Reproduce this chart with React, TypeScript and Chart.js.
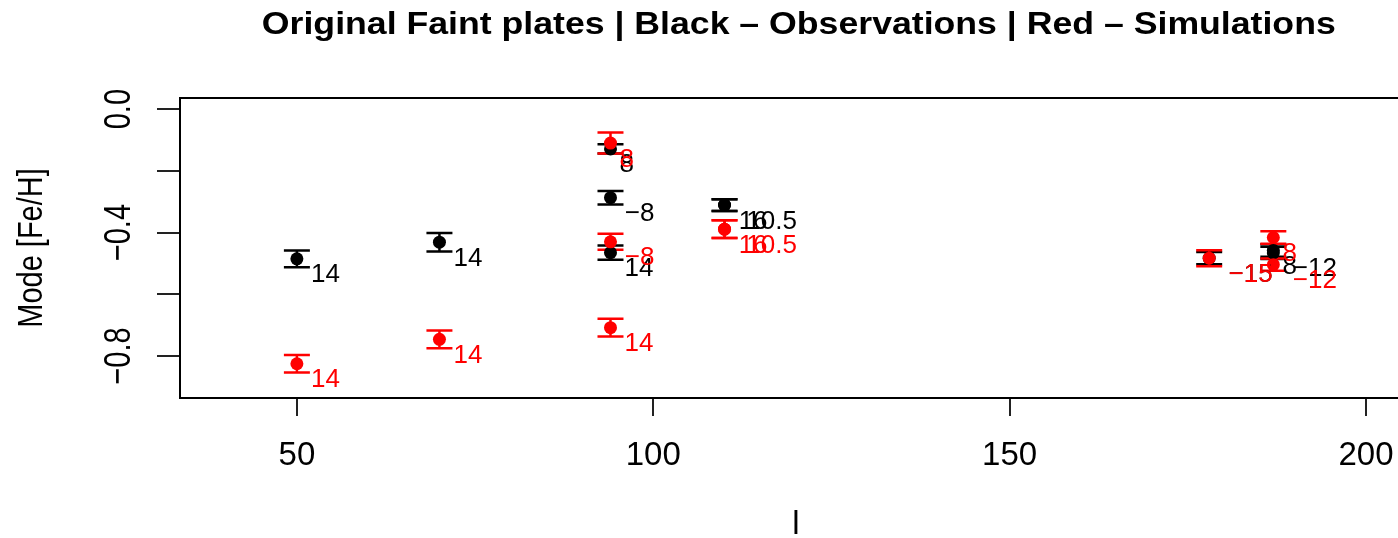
import React, { useEffect, useRef } from "react";
import { Chart, registerables } from "chart.js";

Chart.register(...registerables);

// ---- data ----
const fieldL = [50, 70, 94, 94, 94, 110, 110, 178, 187, 187];
const fieldLabels = ["14", "14", "8", "−8", "14", "16", "10.5", "−15", "8", "−12"];
const obsMode = [-0.485, -0.431, -0.129, -0.287, -0.465, -0.311, -0.311, -0.483, -0.458, -0.466];
const obsErr = [0.027, 0.03, 0.015, 0.022, 0.023, 0.019, 0.019, 0.02, 0.02, 0.02];
const simMode = [-0.825, -0.746, -0.11, -0.43, -0.708, -0.389, -0.389, -0.483, -0.416, -0.504];
const simErr = [0.028, 0.029, 0.034, 0.026, 0.029, 0.029, 0.029, 0.026, 0.02, 0.02];

const xTicks = [50, 100, 150, 200];
const xTickLabels = ["50", "100", "150", "200"];
const yTicks = [0, -0.2, -0.4, -0.6, -0.8];
const yLabelValues = [0, -0.4, -0.8];
const yTickLabels = ["0.0", "−0.4", "−0.8"];
const xLimits = [33.6, 206.4];
const yLimits = [-0.936, 0.036];

const titleText = "Original Faint plates | Black – Observations | Red – Simulations";
const xTitle = "l";
const yTitle = "Mode [Fe/H]";

const OBS_COLOR = "#000000";
const SIM_COLOR = "#ff0000";
const FONT = "'Liberation Sans', Arial, Helvetica, sans-serif";

const CANVAS_W = 1430;
const CANVAS_H = 538;

const rPlotPlugin = {
  id: "rPlot",
  beforeDatasetsDraw(chart: any) {
    const { ctx, scales } = chart;
    const x = scales.x;
    const y = scales.y;
    ctx.save();
    const bars = (vals: number[], errs: number[], color: string) => {
      ctx.strokeStyle = color;
      ctx.lineWidth = 2.5;
      for (let i = 0; i < vals.length; i++) {
        const px = x.getPixelForValue(fieldL[i]);
        const pTop = y.getPixelForValue(vals[i] + errs[i]);
        const pBot = y.getPixelForValue(vals[i] - errs[i]);
        ctx.beginPath();
        ctx.moveTo(px, pTop);
        ctx.lineTo(px, pBot);
        ctx.moveTo(px - 13, pTop);
        ctx.lineTo(px + 13, pTop);
        ctx.moveTo(px - 13, pBot);
        ctx.lineTo(px + 13, pBot);
        ctx.stroke();
      }
    };
    bars(obsMode, obsErr, OBS_COLOR);
    bars(simMode, simErr, SIM_COLOR);
    ctx.restore();
  },
  afterDatasetsDraw(chart: any) {
    const { ctx, scales } = chart;
    const x = scales.x;
    const y = scales.y;
    ctx.save();
    ctx.font = `26px ${FONT}`;
    ctx.textAlign = "left";
    ctx.textBaseline = "alphabetic";
    const labels = (vals: number[], color: string) => {
      ctx.fillStyle = color;
      for (let i = 0; i < vals.length; i++) {
        const px = x.getPixelForValue(fieldL[i]);
        const py = y.getPixelForValue(vals[i]);
        const w = ctx.measureText(fieldLabels[i]).width;
        ctx.fillText(fieldLabels[i], px + 4 + 0.35 * w, py + 23.5);
      }
    };
    labels(obsMode, OBS_COLOR);
    labels(simMode, SIM_COLOR);
    ctx.restore();
  },
  afterDraw(chart: any) {
    const { ctx, chartArea, scales } = chart;
    const x = scales.x;
    const y = scales.y;
    ctx.save();
    // box
    ctx.strokeStyle = "#000";
    ctx.lineWidth = 2;
    ctx.strokeRect(chartArea.left, chartArea.top, chartArea.right - chartArea.left, chartArea.bottom - chartArea.top);

    const cx = (chartArea.left + chartArea.right) / 2;
    const cy = (chartArea.top + chartArea.bottom) / 2;

    // title
    ctx.fillStyle = "#000";
    ctx.font = `bold 31px ${FONT}`;
    ctx.textAlign = "center";
    ctx.textBaseline = "alphabetic";
    ctx.save();
    ctx.translate(cx + 3, 34);
    ctx.scale(1.15, 1);
    ctx.fillText(titleText, 0, 0);
    ctx.restore();

    // x tick labels
    ctx.font = `33px ${FONT}`;
    xTicks.forEach((v, i) => {
      ctx.fillText(xTickLabels[i], x.getPixelForValue(v), 465);
    });

    // x title
    ctx.fillText(xTitle, cx, 534);

    // y tick labels (rotated)
    ctx.font = `29px ${FONT}`;
    yLabelValues.forEach((v, i) => {
      ctx.save();
      ctx.translate(130, y.getPixelForValue(v));
      ctx.rotate(-Math.PI / 2);
      ctx.scale(1, 1.3);
      ctx.fillText(yTickLabels[i], 0, 0);
      ctx.restore();
    });

    // y title
    ctx.save();
    ctx.translate(42, cy);
    ctx.rotate(-Math.PI / 2);
    ctx.scale(1, 1.2);
    ctx.fillText(yTitle, 0, 0);
    ctx.restore();

    ctx.restore();
  },
};

export default function App() {
  const canvasRef = useRef<HTMLCanvasElement | null>(null);

  useEffect(() => {
    document.body.style.margin = "0";
    document.body.style.overflow = "hidden";
    document.documentElement.style.overflow = "hidden";
    const canvas = canvasRef.current;
    if (!canvas) return;

    const obsPoints = fieldL.map((l, i) => ({ x: l, y: obsMode[i] }));
    const simPoints = fieldL.map((l, i) => ({ x: l, y: simMode[i] }));

    const chart = new Chart(canvas, {
      type: "scatter",
      data: {
        datasets: [
          {
            label: "Observations",
            data: obsPoints,
            backgroundColor: OBS_COLOR,
            borderWidth: 0,
            pointRadius: 6.5,
            order: 2,
          },
          {
            label: "Simulations",
            data: simPoints,
            backgroundColor: SIM_COLOR,
            borderWidth: 0,
            pointRadius: 6.5,
            order: 1,
          },
        ],
      },
      options: {
        responsive: false,
        animation: false,
        devicePixelRatio: 1,
        layout: { padding: { top: 98, left: 0, right: CANVAS_W - 1411.6, bottom: 0 } },
        plugins: {
          legend: { display: false },
          tooltip: { enabled: false },
          title: { display: false },
        },
        scales: {
          x: {
            type: "linear",
            position: "bottom",
            min: xLimits[0],
            max: xLimits[1],
            afterBuildTicks: (scale: any) => {
              scale.ticks = xTicks.map((v) => ({ value: v }));
            },
            afterFit: (scale: any) => {
              scale.height = CANVAS_H - 398;
            },
            ticks: { display: false },
            border: { display: false },
            grid: {
              drawOnChartArea: false,
              drawTicks: true,
              tickLength: 18,
              color: "#222",
              lineWidth: 2,
            },
          },
          y: {
            type: "linear",
            position: "left",
            min: yLimits[0],
            max: yLimits[1],
            afterBuildTicks: (scale: any) => {
              scale.ticks = yTicks.map((v) => ({ value: v }));
            },
            afterFit: (scale: any) => {
              scale.width = 180;
            },
            ticks: { display: false },
            border: { display: false },
            grid: {
              drawOnChartArea: false,
              drawTicks: true,
              tickLength: 23,
              color: "#222",
              lineWidth: 2,
            },
          },
        },
      },
      plugins: [rPlotPlugin],
    });

    return () => chart.destroy();
  }, []);

  return (
    <div style={{ width: CANVAS_W, height: CANVAS_H, overflow: "hidden", background: "#fff" }}>
      <canvas ref={canvasRef} width={CANVAS_W} height={CANVAS_H} style={{ display: "block" }} />
    </div>
  );
}
